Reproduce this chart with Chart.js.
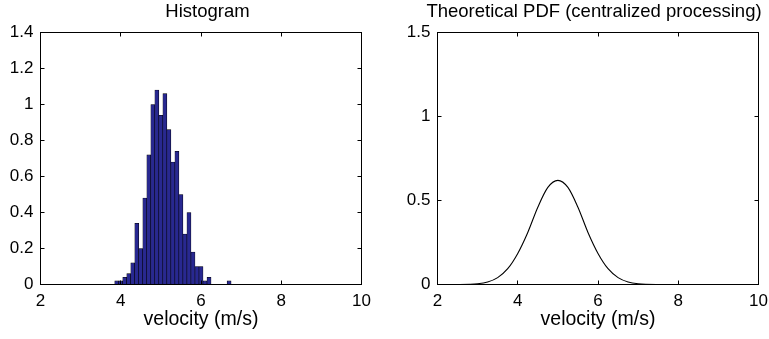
<!DOCTYPE html>
<html>
<head>
<meta charset="utf-8">
<script src="https://cdn.jsdelivr.net/npm/chart.js@4/dist/chart.umd.min.js"></script>
<style>
html,body{margin:0;padding:0;background:#fff;overflow:hidden;width:769px;height:339px;}
#wrapL{position:absolute;left:0;top:0;width:415px;height:339px;}
#wrapR{position:absolute;left:385px;top:0;width:418px;height:339px;}
</style>
</head>
<body>
<div id="wrapL"><canvas id="histC"></canvas></div>
<div id="wrapR"><canvas id="pdfC"></canvas></div>
<script>
// ---- data ----
const binCenters = [3.9,4.0,4.1,4.2,4.3,4.4,4.5,4.6,4.7,4.8,4.9,5.0,5.1,5.2,5.3,5.4,5.5,5.6,5.7,5.8,5.9,6.0,6.1,6.2,6.3,6.4,6.5,6.6,6.7];
const histValues = [0.02,0.02,0.04,0.06,0.12,0.34,0.20,0.48,0.72,1.00,1.08,0.94,1.06,0.86,0.68,0.74,0.50,0.28,0.40,0.18,0.10,0.10,0.02,0.04,0,0,0,0,0.02];
const pdfX = [2,2.5,3,3.25,3.5,3.75,4,4.25,4.5,4.75,5,5.25,5.5,5.75,6,6.25,6.5,6.75,7,7.5,8,10];
const pdfY = [0,0.0003,0.0045,0.015,0.041,0.094,0.185,0.31,0.46,0.578,0.62,0.578,0.46,0.31,0.185,0.094,0.041,0.015,0.0045,0.0003,0,0];
const xTicks = [2,4,6,8,10];
const yTicksHist = [0,0.2,0.4,0.6,0.8,1,1.2,1.4];
const yTicksPdf = [0,0.5,1,1.5];
const titleHist = 'Histogram';
const titlePdf = 'Theoretical PDF (centralized processing)';
const xLabel = 'velocity (m/s)';

const FONT = "'Liberation Sans', Arial, Helvetica, sans-serif";
const fmt = v => String(Number(Number(v).toFixed(2)));

const frame = {
  id: 'frame',
  afterDatasetsDraw(chart) {
    const {ctx, chartArea: a, scales: {x, y}} = chart;
    ctx.save();
    ctx.strokeStyle = '#000';
    ctx.lineWidth = 1;
    const L = 4;
    ctx.beginPath();
    x.ticks.forEach(t => {
      const px = Math.round(x.getPixelForValue(t.value) - 0.5) + 0.5;
      ctx.moveTo(px, a.bottom); ctx.lineTo(px, a.bottom - L);
      ctx.moveTo(px, a.top); ctx.lineTo(px, a.top + L);
    });
    y.ticks.forEach(t => {
      const py = Math.round(y.getPixelForValue(t.value) - 0.5) + 0.5;
      ctx.moveTo(a.left, py); ctx.lineTo(a.left + L, py);
      ctx.moveTo(a.right, py); ctx.lineTo(a.right - L, py);
    });
    ctx.stroke();
    ctx.strokeRect(a.left, a.top, a.right - a.left, a.bottom - a.top);
    ctx.restore();
  }
};

function baseOptions(title, yTicks, ymax, yWidth, rightWidth) {
  return {
    responsive: true,
    maintainAspectRatio: false,
    animation: false,
    layout: {padding: 0},
    plugins: {
      legend: {display: false},
      tooltip: {enabled: false},
      title: {
        display: true, text: title, color: '#000',
        font: {family: FONT, size: 18.5, weight: 'normal', lineHeight: 1.2},
        padding: {top: 1.2, bottom: 9.1}
      }
    },
    scales: {
      x: {
        type: 'linear', min: 2, max: 10, offset: false,
        grid: {display: false, drawTicks: false},
        border: {display: false},
        afterBuildTicks: s => { s.ticks = xTicks.map(v => ({value: v})); },
        afterFit: s => { s.height = 54.5; },
        ticks: {color: '#000', padding: 7, maxRotation: 0, font: {family: FONT, size: 17}, callback: fmt},
        title: {display: true, text: xLabel, color: '#000', font: {family: FONT, size: 19.5, lineHeight: 1.2}, padding: {top: 0, bottom: 8.1}}
      },
      y: {
        type: 'linear', min: 0, max: ymax,
        grid: {display: false, drawTicks: false},
        border: {display: false},
        afterBuildTicks: s => { s.ticks = yTicks.map(v => ({value: v})); },
        afterFit: s => { s.width = yWidth; },
        ticks: {color: '#000', padding: 7, font: {family: FONT, size: 17}, callback: fmt}
      },
      yPad: {
        type: 'linear', position: 'right', min: 0, max: 1, display: true,
        grid: {display: false, drawTicks: false},
        border: {display: false},
        ticks: {display: false},
        afterFit: s => { s.width = rightWidth; }
      }
    }
  };
}

new Chart(document.getElementById('histC'), {
  type: 'bar',
  data: {
    datasets: [{
      data: binCenters.map((c, i) => ({x: c, y: histValues[i]})),
      backgroundColor: 'rgb(40,40,145)',
      borderColor: '#000',
      borderWidth: 0.6,
      borderSkipped: false,
      categoryPercentage: 1.0,
      barPercentage: 1.0
    }]
  },
  options: baseOptions(titleHist, yTicksHist, 1.4, 40.5, 53.5),
  plugins: [frame]
});

new Chart(document.getElementById('pdfC'), {
  type: 'line',
  data: {
    datasets: [{
      data: pdfX.map((v, i) => ({x: v, y: pdfY[i]})),
      borderColor: '#000',
      borderWidth: 1.1,
      pointRadius: 0,
      fill: false,
      cubicInterpolationMode: 'monotone'
    }]
  },
  options: baseOptions(titlePdf, yTicksPdf, 1.5, 52.5, 44.5),
  plugins: [frame]
});
</script>
</body>
</html>
